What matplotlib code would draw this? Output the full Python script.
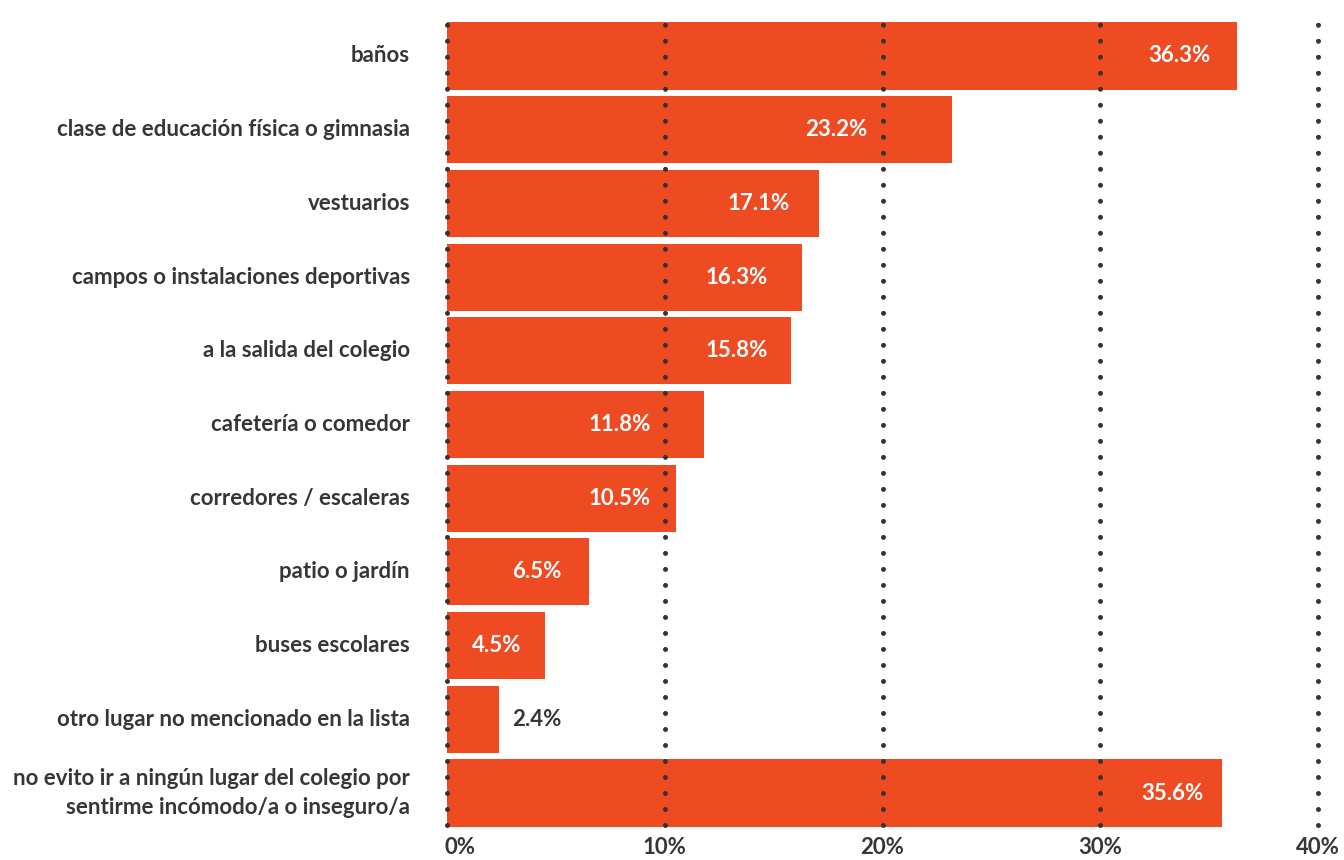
"""
Lugares del colegio que se evitan - barras horizontales.
"""
import numpy as np
import matplotlib
matplotlib.use("Agg")
import matplotlib.pyplot as plt

categories = [
    "baños",
    "clase de educación física o gimnasia",
    "vestuarios",
    "campos o instalaciones deportivas",
    "a la salida del colegio",
    "cafetería o comedor",
    "corredores / escaleras",
    "patio o jardín",
    "buses escolares",
    "otro lugar no mencionado en la lista",
    "no evito ir a ningún lugar del colegio por\nsentirme incómodo/a o inseguro/a",
]
values = [36.3, 23.2, 17.1, 16.3, 15.8, 11.8, 10.5, 6.5, 4.5, 2.4, 35.6]
value_labels = ["36.3%", "23.2%", "17.1%", "16.3%", "15.8%", "11.8%",
                "10.5%", "6.5%", "4.5%", "2.4%", "35.6%"]
ticks = [0, 10, 20, 30, 40]
tick_labels = ["0%", "10%", "20%", "30%", "40%"]

# where each value label ends (hand placed in the original)
label_end = [35.04, 19.29, 15.75, 14.74, 14.74, 9.37, 9.37, 5.28, 3.40, 5.28, 34.76]

BAR = "#ee4b22"
DARK = "#363636"
FS = 16
plt.rcParams["font.family"] = ["Lato", "DejaVu Sans"]

W, H = 1344, 860
fig = plt.figure(figsize=(W / 100, H / 100), dpi=100)
left, right, top, bottom = 447, 1318, 15, 825
ax = fig.add_axes([left / W, 1 - bottom / H, (right - left) / W, (bottom - top) / H])

y = np.arange(len(categories))
ax.barh(y, values, height=0.91, color=BAR, zorder=2, clip_on=False)
ax.set_xlim(0, 40)
ax.set_ylim(10.434, -0.556)

for t in ticks:
    ax.axvline(t, color="#333333", lw=3.6, linestyle=(0, (0.001, 3.2)),
               dash_capstyle="round", zorder=3, clip_on=False)

for i, (cat, v) in enumerate(zip(categories, values)):
    ax.text(-1.70, i, cat, ha="right", va="center", fontsize=FS,
            fontweight="bold", color=DARK, linespacing=1.45)
    col = "white" if v > 3 else DARK
    ax.text(label_end[i], i, value_labels[i], ha="right", va="center",
            fontsize=FS, fontweight="bold", color=col, zorder=4)

for t, lab in zip(ticks, tick_labels):
    ha = "left" if t == 0 else "center"
    ax.text(t - (0.1 if t == 0 else 0), 10.74, lab, ha=ha, va="center",
            fontsize=FS, fontweight="bold", color=DARK, clip_on=False)

ax.axis("off")
fig.savefig("out.png", dpi=100)
